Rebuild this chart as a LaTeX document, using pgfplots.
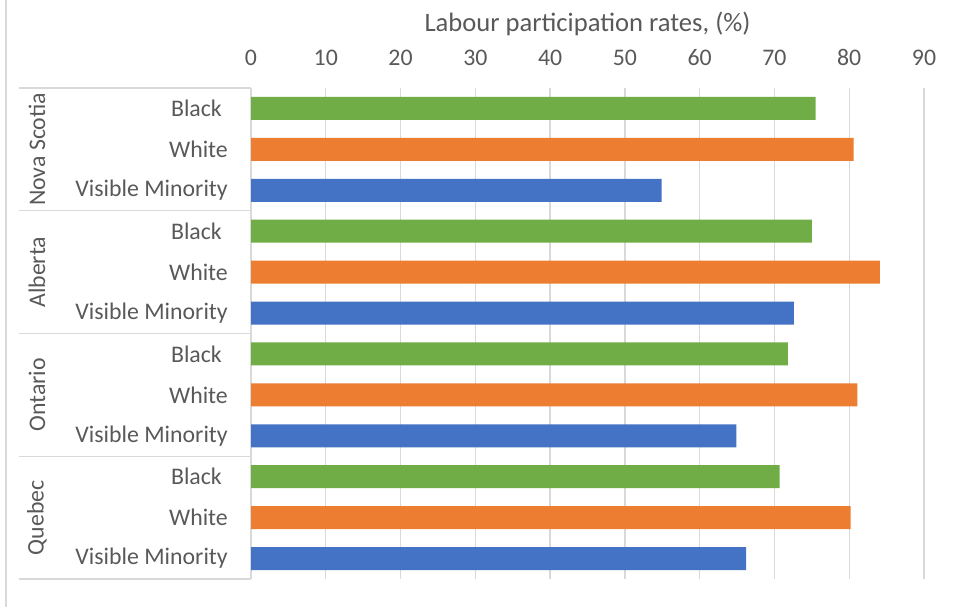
\documentclass[border=0pt]{standalone}
\usepackage{pgfplots}
\pgfplotsset{compat=1.18}
\usepackage{fontspec}
\setmainfont{Carlito}

\definecolor{barBlack}{HTML}{70AD47}
\definecolor{barWhite}{HTML}{ED7D31}
\definecolor{barVM}{HTML}{4472C4}
\definecolor{gridgray}{HTML}{D9D9D9}
\definecolor{textgray}{HTML}{595959}

\newcommand{\lblfont}{\fontsize{23.9}{28}\selectfont}
\newcommand{\ttlfont}{\fontsize{26.7}{32}\selectfont}
% category name carries a trailing space
\newcommand{\blk}{Black\kern6bp}

\begin{document}
\begin{tikzpicture}
\path[use as bounding box] (0,0) rectangle (959bp,607bp);
% chart frame edge
\draw[gridgray, line width=1.3bp] (6bp,0) -- (6bp,607bp);
\begin{axis}[
  at={(251bp,28bp)}, anchor=south west,
  scale only axis, width=673bp, height=491bp,
  xmin=0, xmax=90, xtick={0,10,...,90},
  ymin=0.5, ymax=12.5, y dir=reverse,
  ytick={1,...,12},
  yticklabels={\blk,White,Visible Minority,\blk,White,Visible Minority,
               \blk,White,Visible Minority,\blk,White,Visible Minority},
  xbar, bar width=23bp, bar shift=0pt,
  xticklabel pos=top,
  axis line style={draw=none},
  major tick length=0pt,
  xmajorgrids, grid style={gridgray, line width=1.3bp},
  ticklabel style={font=\lblfont, text=textgray},
  xticklabel style={anchor=base, yshift=23bp},
  yticklabel style={anchor=east, inner sep=0pt, xshift=-23bp},
  /pgf/number format/assume math mode=true,
  clip=false,
]
% Black
\addplot[draw=none, fill=barBlack] coordinates {(75.5,1) (75.0,4) (71.8,7) (70.7,10)};
% White
\addplot[draw=none, fill=barWhite] coordinates {(80.6,2) (84.1,5) (81.1,8) (80.2,11)};
% Visible Minority
\addplot[draw=none, fill=barVM] coordinates {(54.9,3) (72.6,6) (64.9,9) (66.2,12)};

% group separators on the category axis
\pgfplotsinvokeforeach{0.5,3.5,6.5,9.5,12.5}{
  \draw[gridgray, line width=1.3bp] ([xshift=-232bp]axis cs:0,#1) -- (axis cs:0,#1);
}
% province labels
\node[rotate=90, font=\lblfont, text=textgray] at ([xshift=-214bp]axis cs:0,2) {Nova Scotia};
\node[rotate=90, font=\lblfont, text=textgray] at ([xshift=-214bp]axis cs:0,5) {Alberta};
\node[rotate=90, font=\lblfont, text=textgray] at ([xshift=-214bp]axis cs:0,8) {Ontario};
\node[rotate=90, font=\lblfont, text=textgray] at ([xshift=-214bp]axis cs:0,11) {Quebec};
% axis title
\node[font=\ttlfont, text=textgray] at ([yshift=64bp]rel axis cs:0.5,1) {Labour participation rates, (\%)};
\end{axis}
\end{tikzpicture}
\end{document}
